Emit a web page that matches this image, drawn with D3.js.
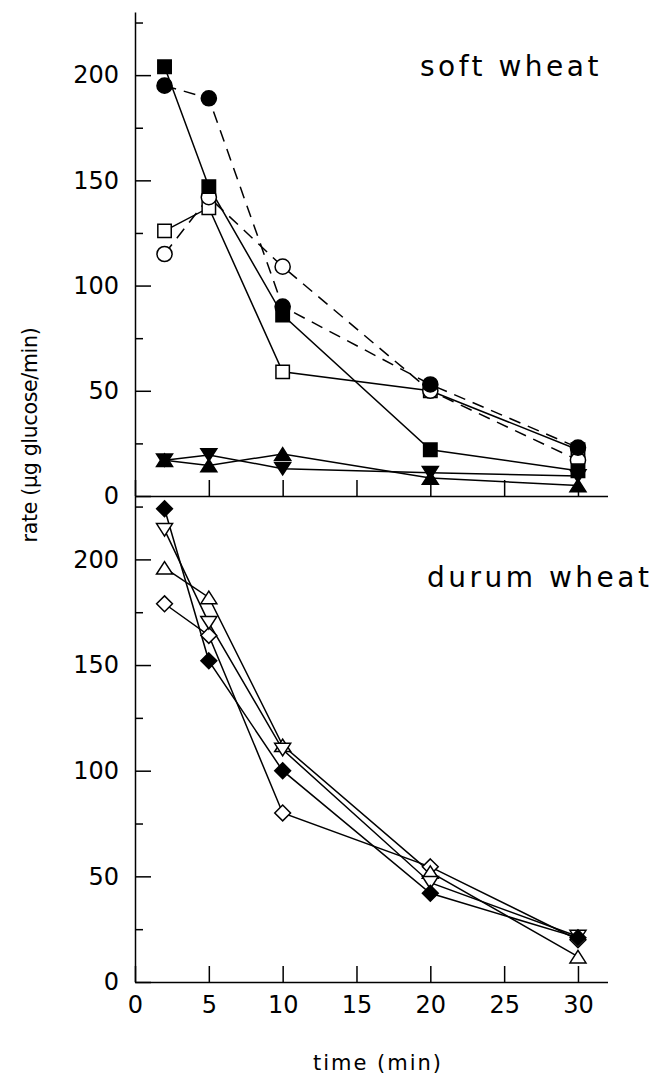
<!DOCTYPE html>
<html>
<head>
<meta charset="utf-8">
<script src="https://cdn.jsdelivr.net/npm/d3@7"></script>
<style>
  body { margin: 0; background: #fff; }
  text { font-family: "DejaVu Sans", sans-serif; fill: #000; }
</style>
</head>
<body>
<svg id="canvas" width="654" height="1075"></svg>
<script>
// sampling times (min)
const times = [2, 5, 10, 20, 30];

// soft wheat (rate, ug glucose/min)
const softFilledSquare = [204, 147, 86, 22, 12];
const softFilledCircle = [195, 189, 90, 53, 23];
const softOpenSquare = [126, 137, 59, 50, 22];
const softOpenCircle = [115, 142, 109, 50, 17];
const softUpTriangle = [17, 14.5, 20, 8.5, 5];
const softDownTriangle = [17, 19.5, 13, 11, 9.5];

// durum wheat
const durumOpenDiamond = [179, 164, 80, 54.5, 20];
const durumOpenUp = [196, 182, 112, 52, 12];
const durumOpenDown = [214, 170, 110, 47, 21.5];
const durumFilledDiamond = [224, 152, 100, 42, 21];

const xTicks = [0, 5, 10, 15, 20, 25, 30];
const yMajor = [0, 50, 100, 150, 200];
const yMinor = [25, 75, 125, 175, 225];

// custom marker shapes for d3.symbol
const shapes = {
  square: { draw(c, s) { const h = Math.sqrt(s) / 2; c.rect(-h, -h, 2 * h, 2 * h); } },
  circle: d3.symbolCircle,
  up: { draw(c, s) { const w = Math.sqrt(s) / 2, h = w * 0.78;
    c.moveTo(0, -h); c.lineTo(w, h); c.lineTo(-w, h); c.closePath(); } },
  down: { draw(c, s) { const w = Math.sqrt(s) / 2, h = w * 0.78;
    c.moveTo(0, h); c.lineTo(w, -h); c.lineTo(-w, -h); c.closePath(); } },
  diamond: { draw(c, s) { const w = Math.sqrt(s) / 2;
    c.moveTo(0, -w); c.lineTo(w, 0); c.lineTo(0, w); c.lineTo(-w, 0); c.closePath(); } }
};
const sizes = { square: 180, circle: 180, up: 256, down: 256, diamond: 250 };

const softSeries = [
  { values: softOpenSquare, shape: "square", filled: false, dashed: false },
  { values: softOpenCircle, shape: "circle", filled: false, dashed: true },
  { values: softFilledSquare, shape: "square", filled: true, dashed: false },
  { values: softFilledCircle, shape: "circle", filled: true, dashed: true },
  { values: softDownTriangle, shape: "down", filled: true, dashed: false },
  { values: softUpTriangle, shape: "up", filled: true, dashed: false }
];
const durumSeries = [
  { values: durumOpenDiamond, shape: "diamond", filled: false, dashed: false },
  { values: durumOpenUp, shape: "up", filled: false, dashed: false },
  { values: durumOpenDown, shape: "down", filled: false, dashed: false },
  { values: durumFilledDiamond, shape: "diamond", filled: true, dashed: false }
];

const svg = d3.select("#canvas");
const x = d3.scaleLinear().domain([0, 32]).range([135, 607.5]);
const yTop = d3.scaleLinear().domain([0, 230]).range([496, 12]);
const yBot = d3.scaleLinear().domain([0, 230]).range([982, 496]);

const drawPanel = (y, series, showXLabels, title, titleX, titleY) => {
  const g = svg.append("g");

  // y axis, major + minor ticks pointing inward
  g.append("g")
    .attr("transform", `translate(${x(0)},0)`)
    .call(d3.axisLeft(y).tickValues(yMajor).tickSize(-16).tickSizeOuter(0).tickPadding(16))
    .call(a => a.selectAll("text").style("font-size", "24px").attr("font-family", null));
  g.append("g")
    .attr("transform", `translate(${x(0)},0)`)
    .call(d3.axisLeft(y).tickValues(yMinor).tickSize(-8).tickSizeOuter(0).tickFormat(""))
    .call(a => a.select(".domain").remove());

  // x axis
  g.append("g")
    .attr("transform", `translate(0,${y(0)})`)
    .call(d3.axisBottom(x).tickValues(xTicks).tickSize(-16).tickSizeOuter(0).tickPadding(14)
      .tickFormat(showXLabels ? d3.format("d") : ""))
    .call(a => a.selectAll("text").style("font-size", "24px").attr("font-family", null));

  g.selectAll(".domain, .tick line").attr("stroke", "#000").attr("stroke-width", 1.5);

  const line = d3.line().x((d, i) => x(times[i])).y(d => y(d));

  g.selectAll(".series")
    .data(series)
    .enter()
    .append("path")
    .attr("class", "series")
    .attr("d", s => line(s.values))
    .attr("fill", "none")
    .attr("stroke", "#000")
    .attr("stroke-width", 1.5)
    .attr("stroke-dasharray", s => (s.dashed ? "12,8" : null));

  series.forEach(s => {
    const sym = d3.symbol().type(shapes[s.shape]).size(sizes[s.shape]);
    g.selectAll(null)
      .data(s.values)
      .enter()
      .append("path")
      .attr("transform", (d, i) => `translate(${x(times[i])},${y(d)})`)
      .attr("d", sym)
      .attr("fill", s.filled ? "#000" : "#fff")
      .attr("stroke", "#000")
      .attr("stroke-width", 1.5);
  });

  g.append("text")
    .attr("x", titleX)
    .attr("y", titleY)
    .style("font-size", "28px")
    .style("letter-spacing", "3.5px")
    .text(title);
};

drawPanel(yTop, softSeries, false, "soft wheat", 420, 76);
drawPanel(yBot, durumSeries, true, "durum wheat", 427, 587);

svg.append("text")
  .attr("transform", "translate(37,435) rotate(-90)")
  .attr("text-anchor", "middle")
  .style("font-size", "20.5px")
  .style("letter-spacing", "-0.3px")
  .text("rate (\u00b5g glucose/min)");

svg.append("text")
  .attr("x", 378)
  .attr("y", 1070)
  .attr("text-anchor", "middle")
  .style("font-size", "21px")
  .style("letter-spacing", "2px")
  .text("time (min)");
</script>
</body>
</html>
